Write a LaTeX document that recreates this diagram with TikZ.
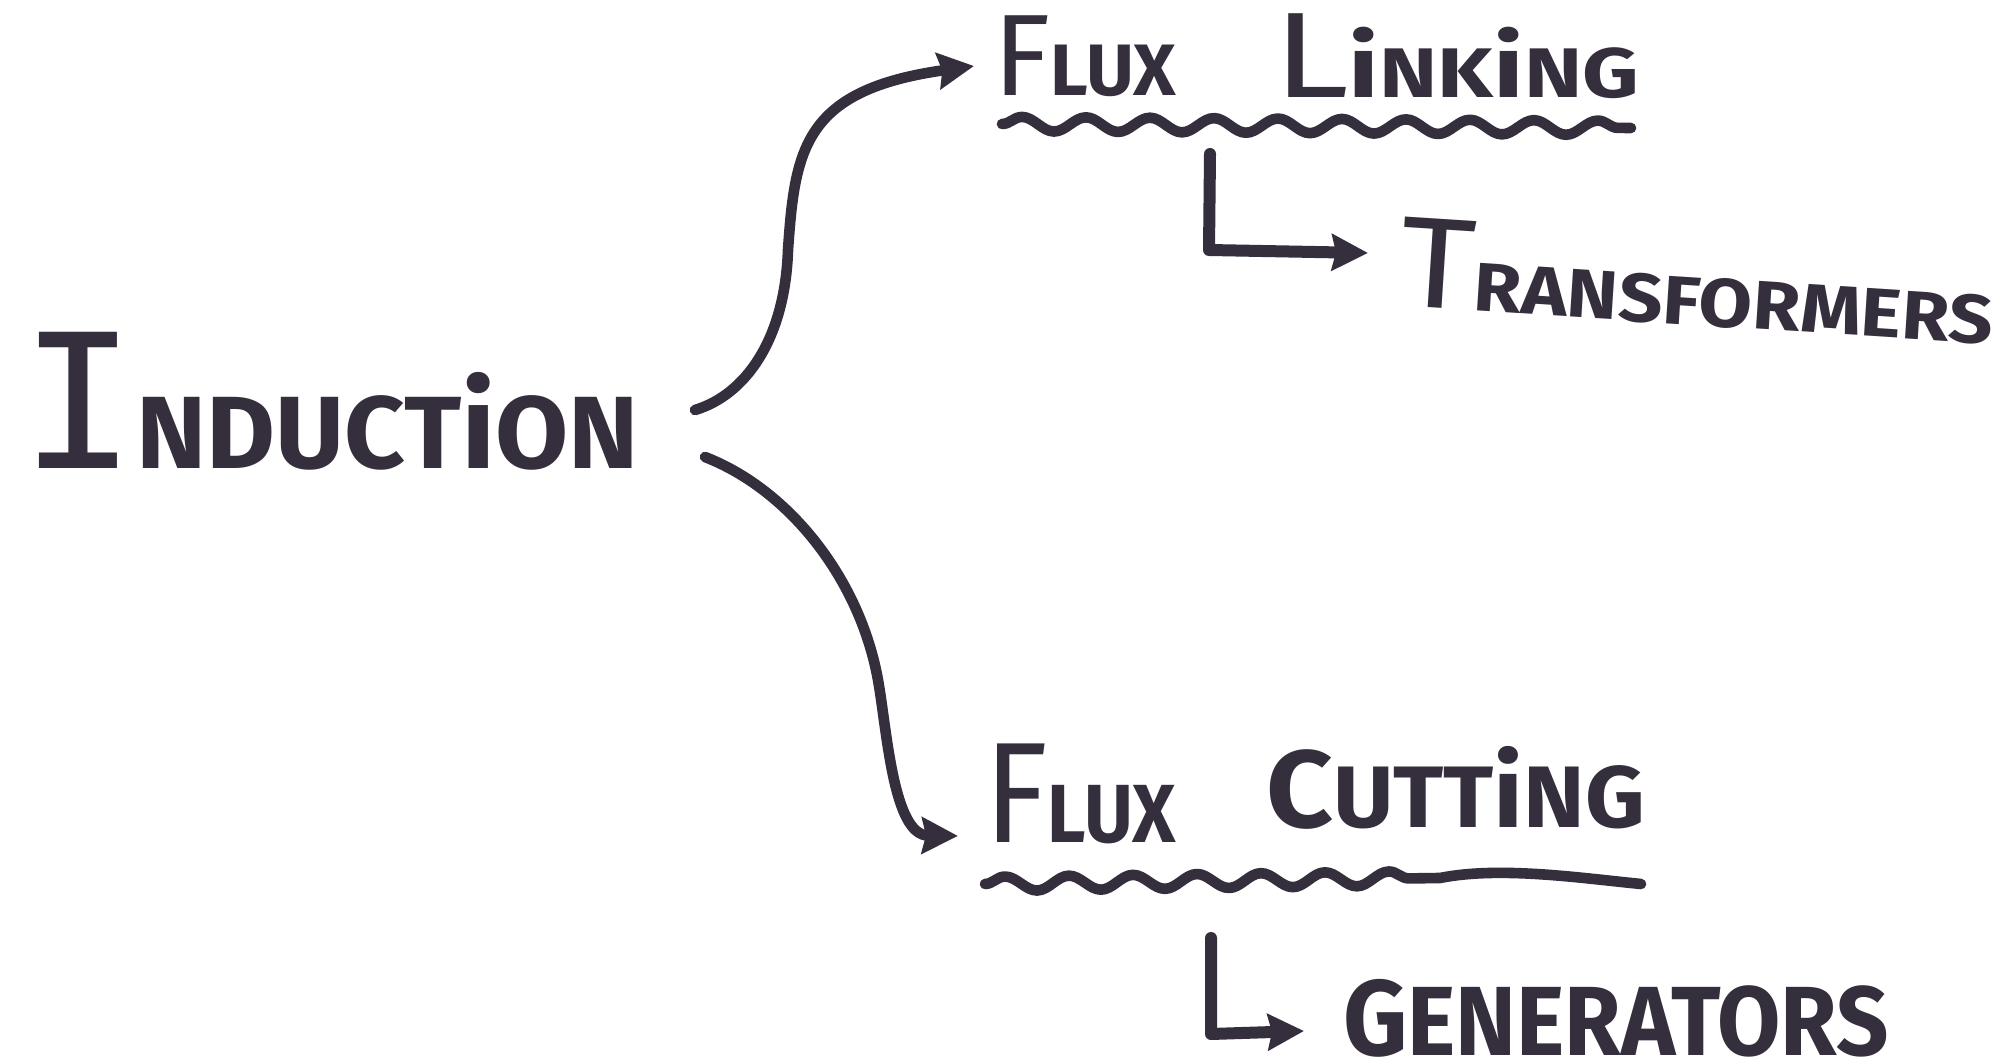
\documentclass[tikz,border=0pt]{standalone}
\usepackage{graphicx}
\usepackage{fontspec}
\setmainfont{Fira Sans}
\newfontfamily\monoI{DejaVu Sans Mono}
\usetikzlibrary{arrows.meta,decorations.pathmorphing}

\definecolor{inkc}{RGB}{53,46,60}
\newcommand\fsz[1]{\fontsize{#1}{#1}\selectfont}

\tikzset{
  ink/.style={draw=inkc, line width=5.3pt, line cap=round, line join=round},
  thickink/.style={ink, line width=6pt},
  tipped/.style={-{Stealth[length=18pt,width=18pt,inset=2pt,fill=inkc]}},
  wavy/.style={decorate, decoration={snake, amplitude=3.6pt, segment length=32pt}},
  word/.style={inner sep=1pt, outer sep=0pt, text=inkc, anchor=north west},
}

\begin{document}
\begin{tikzpicture}[x=0.5pt, y=-0.5pt]
  \fill[white] (0,0) rectangle (2014,1058);
  \useasboundingbox (0,0) rectangle (2014,1058);

  % labels: a tall first letter in a light stroke, the rest in a heavy one
  \node[word] (induction) at (18,330)
    {\resizebox*{309.5pt}{69pt}{{\monoI\fsz{94.6pt}I}\bfseries\fsz{52pt}NDUCT{\fsz{60pt}i}ON}};
  \node[word] (fluxA) at (991,14)
    {\resizebox*{91.5pt}{40.5pt}{\fsz{58.8pt}F\bfseries\fsz{37pt}LUX}};
  \node[word] (linking) at (1271,12)
    {\resizebox*{183pt}{42.5pt}{\fsz{61.7pt}L\bfseries\fsz{35.6pt}{\fsz{44pt}i}NK{\fsz{44pt}i}NG}};
  \node[word, anchor=south west, rotate=-3.7] (transformers) at (1395,309)
    {\resizebox*{298pt}{45pt}{\fsz{65.3pt}T\bfseries\fsz{34.8pt}RANSFORMERS}};
  \node[word] (fluxB) at (982,742)
    {\resizebox*{96pt}{50pt}{\fsz{80.5pt}F\bfseries\fsz{46.4pt}LUX}};
  \node[word] (cutting) at (1264,744)
    {\resizebox*{189.5pt}{41.5pt}{\bfseries\fsz{55.9pt}C\fsz{44.5pt}UTT{\fsz{51pt}i}NG}};
  \node[word] (generators) at (1341,977)
    {\resizebox*{273pt}{39pt}{\bfseries\fsz{60pt}G\fsz{55pt}ENERATORS}};

  % connector end points
  \coordinate (s1) at (695,410);
  \coordinate (m1) at (788,250);
  \coordinate (e1) at (974,66);
  \coordinate (s2) at (705,457);
  \coordinate (m2) at (878,680);
  \coordinate (e2) at (958,836);
  \coordinate (l1a) at (1210,154);
  \coordinate (l1b) at (1209,250);
  \coordinate (l1c) at (1368,253);
  \coordinate (l2a) at (1211,938);
  \coordinate (l2b) at (1211,1034);
  \coordinate (l2c) at (1304,1031);
  \coordinate (u1a) at (1002,124);
  \coordinate (u1b) at (1631,128);
  \coordinate (u2a) at (985,884);
  \coordinate (u2m) at (1440,878);
  \coordinate (u2b) at (1641,884);

  % branches out of INDUCTION
  \draw[ink, tipped] (s1) .. controls (745,395) and (785,340) .. (m1)
                          .. controls (795,150) and (803,90) .. (e1);
  \draw[ink, tipped] (s2) .. controls (790,490) and (860,580) .. (m2)
                          .. controls (887,730) and (893,835) .. (e2);

  % wavy underlines
  \draw[ink, wavy] (u1a) -- (u1b);
  \draw[ink] (u2a) decorate[wavy]{-- (u2m)} .. controls (1500,866) and (1580,878) .. (u2b);

  % elbow arrows to the applications
  \draw[thickink, tipped] (l1a) -- (l1b) -- (l1c);
  \draw[thickink, tipped] (l2a) -- (l2b) -- (l2c);
\end{tikzpicture}
\end{document}
